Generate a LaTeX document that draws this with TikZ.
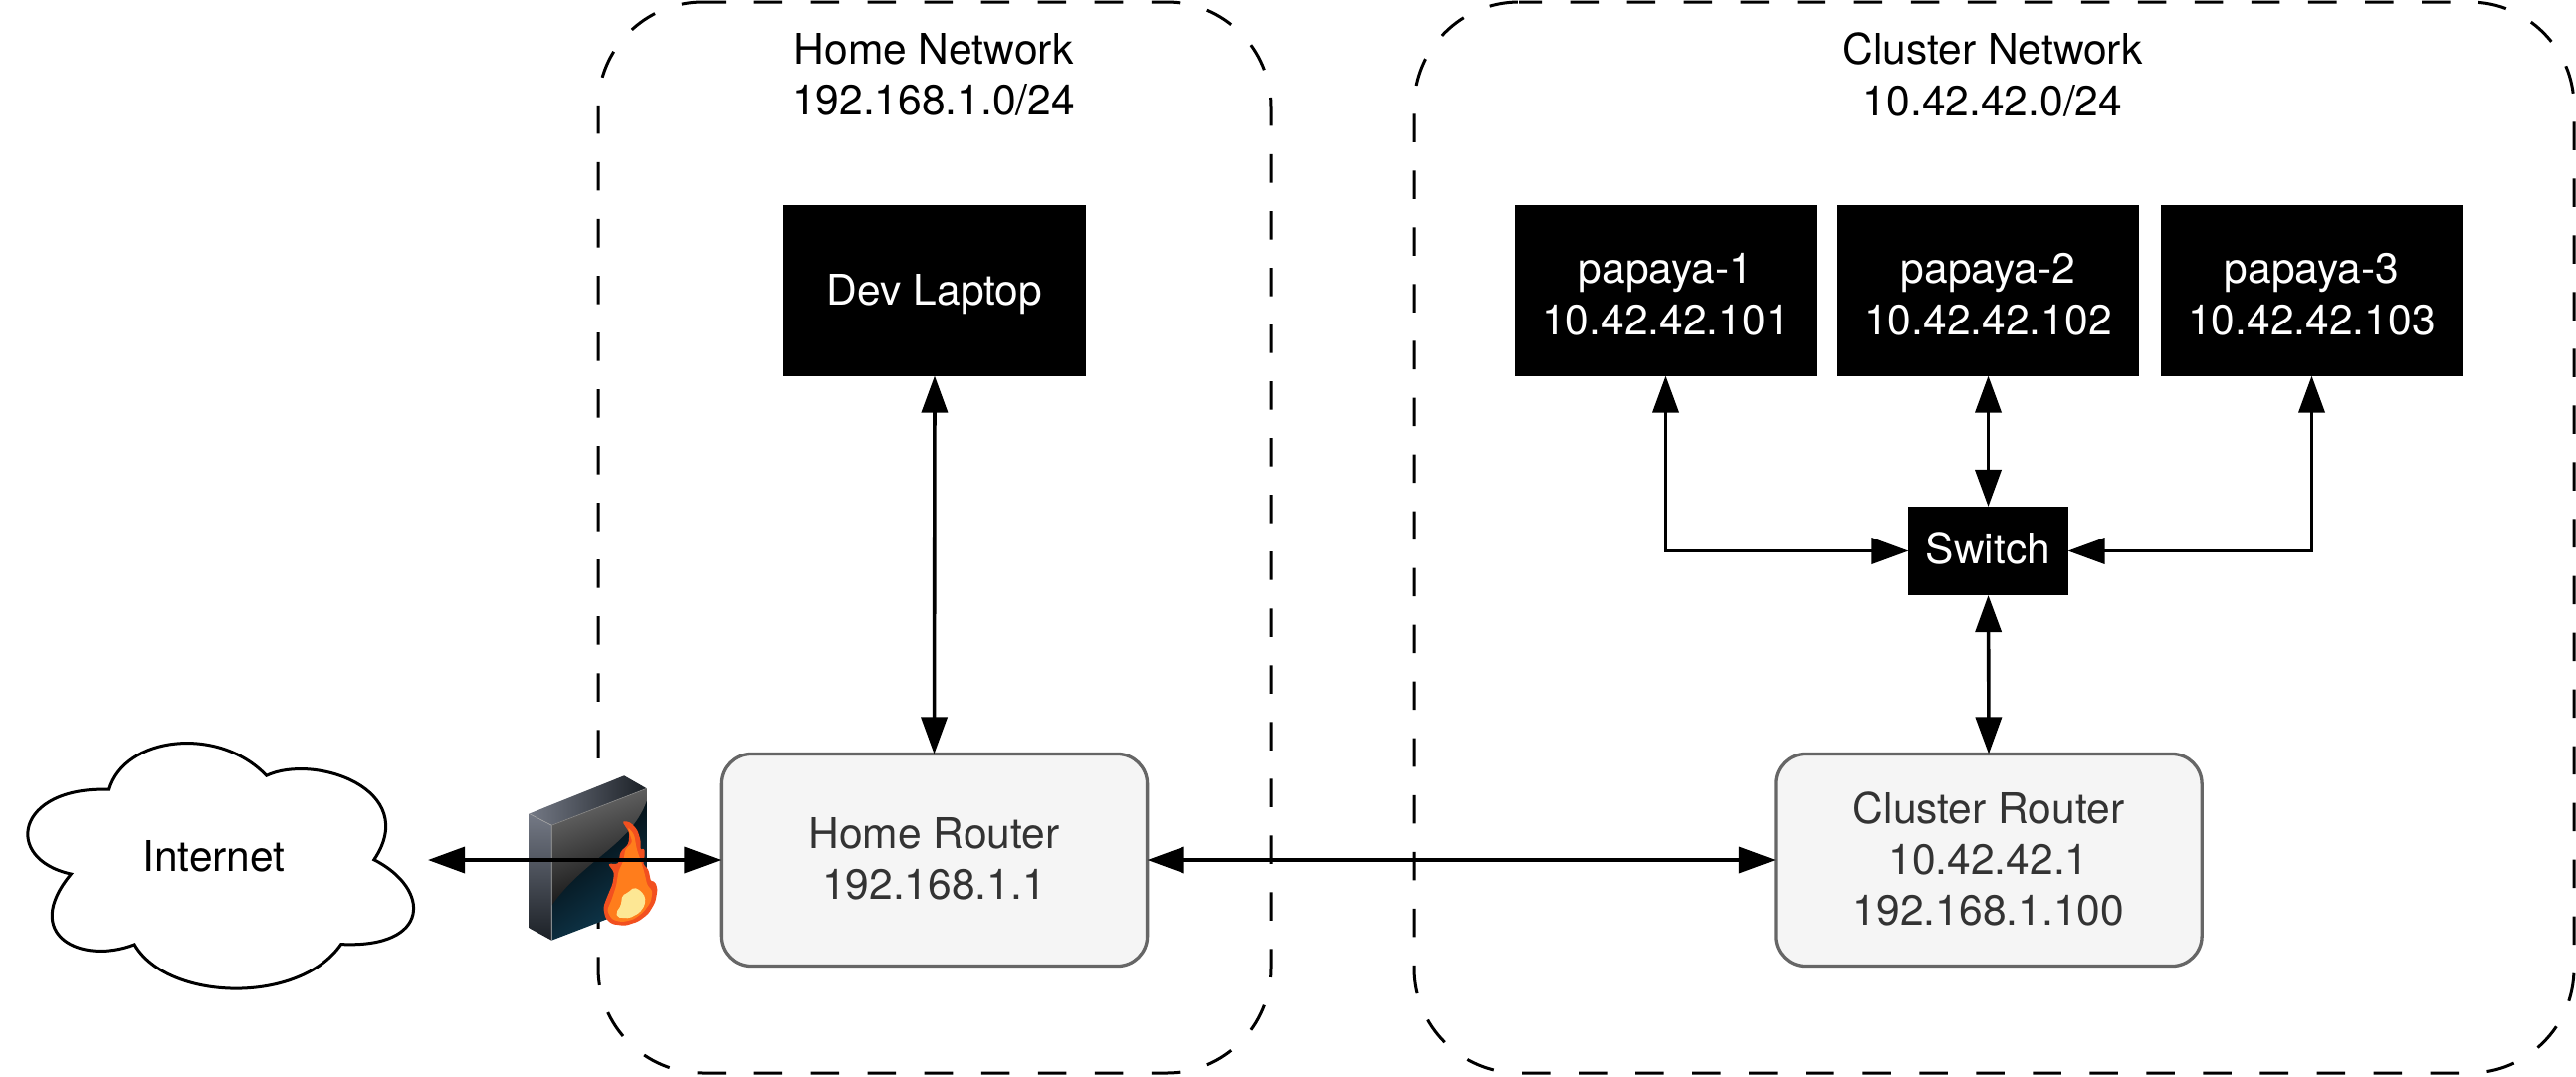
\documentclass[tikz,border=0pt]{standalone}
\usepackage{fontspec}
\setmainfont{TeX Gyre Heros}
\usetikzlibrary{arrows.meta,positioning}
\definecolor{routerfill}{HTML}{F5F5F5}
\definecolor{routerline}{HTML}{666666}
\definecolor{routertext}{HTML}{333333}
\definecolor{flameout}{HTML}{F2501F}
\definecolor{flamemid}{HTML}{FF7D1C}
\definecolor{flamein}{HTML}{FDE794}
\definecolor{wallhi}{HTML}{747985}
\definecolor{wallmid}{HTML}{1B2026}
\definecolor{wallblue}{HTML}{0F3A50}
\tikzset{
  every node/.style={font=\fontsize{12.1}{14.6}\selectfont, align=center, outer sep=0pt, inner sep=0pt},
  netframe/.style={line width=0.3mm, rounded corners=10.5mm, dash pattern=on 2.85mm off 2.85mm, dash phase=0.55mm},
  netlabel/.style={anchor=north},
  hostbox/.style={fill=black, text=white, minimum width=30.3mm, minimum height=17.1mm},
  switchbox/.style={fill=black, text=white, minimum width=16mm, minimum height=8.9mm, text depth=1.7pt},
  router/.style={draw=routerline, fill=routerfill, text=routertext, line width=0.33mm, rounded corners=3mm, minimum width=42.8mm, minimum height=21.3mm, text depth=0.8pt},
  link/.style={line width=0.36mm, {Triangle[length=3.7mm,width=2.6mm]}-{Triangle[length=3.7mm,width=2.6mm]}},
}
% dashed frame of a network, left and right edge as arguments
\newcommand{\netbox}[2]{
  \draw [netframe] ({#1+105},2) -- (#2,2) -- (#2,1078) -- (#1,1078) -- (#1,2) -- ({#1+105},2);
}
\begin{document}
\begin{tikzpicture}[x=0.01cm,y=-0.01cm]
  \useasboundingbox (0,0) rectangle (2588,1081);
  % network groups
  \netbox{601}{1277}
  \netbox{1421}{2586}
  \node [netlabel] (homelabel) at (938,33) {Home Network\\192.168.1.0/24};
  \node [netlabel] (clusterlabel) at (2002,33) {Cluster Network\\10.42.42.0/24};
  % hosts
  \node [hostbox, text height=11pt] (laptop) at (939,292) {Dev Laptop};
  \node [hostbox, text height=25.3pt] (papaya1) at (1673.5,292) {papaya-1\\10.42.42.101};
  \node [hostbox, text height=25.3pt] (papaya2) at (1997.5,292) {papaya-2\\10.42.42.102};
  \node [hostbox, text height=25.3pt] (papaya3) at (2322.5,292) {papaya-3\\10.42.42.103};
  \node [switchbox] (switch) at (1997.5,553.5) {Switch};
  \node [router] (homerouter) at (938.5,864) {Home Router\\192.168.1.1};
  \node [router] (clusterrouter) at (1998,864) {Cluster Router\\10.42.42.1\\192.168.1.100};
  % cloud
  \begin{scope}[shift={(0,700)},x=0.0051cm,y=-0.00333cm]
    \draw [line width=0.3mm, fill=white, line join=miter]
      (215,280) .. controls (245,120) and (430,85) .. (525,238)
      .. controls (620,170) and (830,280) .. (737,492)
      .. controls (850,580) and (850,760) .. (672,747)
      .. controls (590,930) and (330,920) .. (265,748)
      .. controls (160,810) and (40,720) .. (140,535)
      .. controls (5,490) and (30,270) .. (215,280) -- cycle;
  \end{scope}
  \node [text depth=1.7pt] (internet) at (215,863) {Internet};
  \coordinate (cloudport) at (430,864);
  % firewall
  \begin{scope}[shift={(500,740)},x=0.00333cm,y=-0.00333cm]
    \shade [top color=wallhi, bottom color=wallmid] (95,233) -- (163,268) -- (163,615) -- (95,578) -- cycle;
    \shade [left color=wallhi, right color=wallmid] (95,233) -- (382,118) -- (450,157) -- (163,268) -- cycle;
    \shade [top color=black, middle color=black, bottom color=wallblue, shading angle=35] (163,268) -- (450,157) -- (450,505) -- (163,615) -- cycle;
    \shade [top color=black!58, bottom color=black!95, shading angle=20]
      (163,268) -- (450,157) -- (450,195) .. controls (400,330) and (260,370) .. (163,510) -- cycle;
    \draw [black!35, line width=0.06mm] (95,233) -- (163,268) -- (163,615);
    \draw [black!45, line width=0.06mm] (163,268) -- (450,157);
    \fill [flameout, rounded corners=0.3mm]
      (375,255) -- (400,258) -- (422,282) -- (432,315) -- (431,345) -- (443,335) -- (444,362)
      -- (438,385) -- (455,400) -- (463,440) -- (474,435) -- (483,460) -- (476,500) -- (455,535)
      -- (425,558) -- (385,571) -- (345,566) -- (325,548) -- (319,515) -- (330,485) -- (347,445)
      -- (352,410) -- (332,383) -- (365,385) -- (370,348) -- (395,325) -- (398,290) -- cycle;
    \fill [flamemid, rounded corners=0.3mm]
      (392,272) -- (412,295) -- (420,340) -- (432,375) -- (443,410) -- (452,450) -- (468,465)
      -- (462,500) -- (440,530) -- (410,552) -- (375,560) -- (345,552) -- (330,525) -- (345,490)
      -- (358,450) -- (365,405) -- (380,375) -- (385,340) -- (407,320) -- cycle;
    \fill [flamein, rounded corners=0.2mm]
      (412,455) -- (432,465) -- (446,485) -- (444,510) -- (428,532) -- (398,548) -- (362,546)
      -- (358,530) -- (372,510) -- (376,480) -- (394,470) -- cycle;
  \end{scope}
  % links
  \draw [link] (cloudport) -- (homerouter.west);
  \draw [link] (homerouter.east) -- (clusterrouter.west);
  \draw [link] (laptop.south) -- (homerouter.north);
  \draw [link] (papaya1.south) |- (switch.west);
  \draw [link] (papaya2.south) -- (switch.north);
  \draw [link] (papaya3.south) |- (switch.east);
  \draw [link] (clusterrouter.north) -- (switch.south);
\end{tikzpicture}
\end{document}
